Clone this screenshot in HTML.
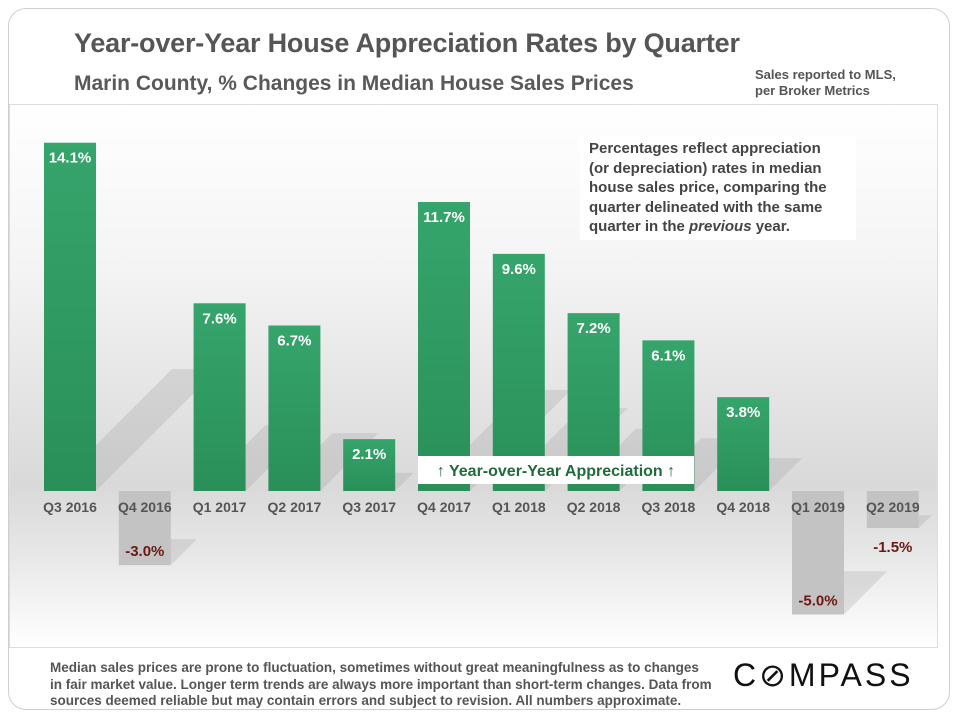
<!DOCTYPE html>
<html><head><meta charset="utf-8">
<style>
html,body{margin:0;padding:0;background:#fff;}
body{width:960px;height:720px;position:relative;overflow:hidden;font-family:"Liberation Sans Narrow","Liberation Sans",sans-serif;}
.frame{position:absolute;left:8px;top:8px;width:942px;height:702px;border:1px solid #cfcfcf;border-radius:18px;box-sizing:border-box;}
.panel{position:absolute;left:9px;top:104px;width:929px;height:544px;border:1px solid #ddd;box-sizing:border-box;
background:linear-gradient(to bottom,#ffffff 0%,#f4f4f4 30%,#d9d9d9 70%,#e6e6e6 82%,#ffffff 100%);}
.title{position:absolute;left:74px;top:28px;font-size:27px;font-weight:bold;color:#555;letter-spacing:-0.2px;}
.sub{position:absolute;left:74px;top:72px;font-size:21px;font-weight:bold;color:#595959;}
.src{position:absolute;left:755px;top:67px;font-size:13px;font-weight:bold;color:#555;line-height:16px;}
.note{position:absolute;left:580px;top:136px;width:276px;height:104px;background:#fff;font-size:15px;font-weight:bold;color:#444;line-height:19.5px;padding:3px 0 0 9px;box-sizing:border-box;white-space:nowrap;}
.foot{position:absolute;left:50px;top:660px;font-size:13.5px;font-weight:bold;color:#555;line-height:16.5px;}
.logo{position:absolute;left:733px;top:656px;font-size:32px;color:#111;letter-spacing:3px;font-family:"Liberation Sans",sans-serif;}
</style></head><body>
<div class="frame"></div>
<div class="panel"></div>
<div class="title">Year-over-Year House Appreciation Rates by Quarter</div>
<div class="sub">Marin County, % Changes in Median House Sales Prices</div>
<div class="src">Sales reported to MLS,<br>per Broker Metrics</div>
<svg id="chart" width="960" height="720" style="position:absolute;left:0;top:0"></svg>
<div class="note">Percentages reflect appreciation<br>(or depreciation) rates in median<br>house sales price, comparing the<br>quarter delineated with the same<br>quarter in the <i>previous</i> year.</div>
<div class="foot">Median sales prices are prone to fluctuation, sometimes without great meaningfulness as to changes<br>in fair market value. Longer term trends are always more important than short-term changes. Data from<br>sources deemed reliable but may contain errors and subject to revision. All numbers approximate.</div>
<div class="logo">C&#8856;MPASS</div>
<script>
const categories=["Q3 2016","Q4 2016","Q1 2017","Q2 2017","Q3 2017","Q4 2017","Q1 2018","Q2 2018","Q3 2018","Q4 2018","Q1 2019","Q2 2019"];
const values=[14.1,-3.0,7.6,6.7,2.1,11.7,9.6,7.2,6.1,3.8,-5.0,-1.5];
const NS="http://www.w3.org/2000/svg";
const svg=document.getElementById('chart');
const baseY=491, pxPer=24.7, x0=70, step=74.8, bw=52;
function xs(i){return x0+i*step;}
function ys(v){return baseY-v*pxPer;}
function el(t,a,txt){const e=document.createElementNS(NS,t);for(const k in a)e.setAttribute(k,a[k]);if(txt!==undefined)e.textContent=txt;svg.appendChild(e);return e;}
const defs=el('defs',{});
defs.innerHTML='<linearGradient id="gg" x1="0" y1="0" x2="0" y2="1"><stop offset="0" stop-color="#35a56c"/><stop offset="1" stop-color="#2a8f59"/></linearGradient>';
values.forEach((v,i)=>{
  const cx=xs(i);
  const h=Math.abs(v)*pxPer*0.35;
  const yb=v>=0?baseY:baseY+Math.abs(v)*pxPer;
  const s=el('polygon',{points:`${cx-bw/2+6},${yb} ${cx+bw/2},${yb} ${cx+bw/2+h},${yb-h} ${cx-bw/2+6+h},${yb-h}`,fill:'rgba(160,160,160,0.28)'});
  
  
});
values.forEach((v,i)=>{
  const cx=xs(i);
  const y=v>=0?ys(v):baseY;
  const h=Math.abs(v)*pxPer;
  const r=el('rect',{x:cx-bw/2,y:y,width:bw,height:h,fill:v>=0?'url(#gg)':'#c3c3c3'});
  
  
  const c=el('text',{x:cx,y:baseY+21,'text-anchor':'middle','font-size':'14','font-weight':'bold',fill:'#555','font-family':'Liberation Sans Narrow, Liberation Sans, sans-serif'},categories[i]);
  
  
  const lbl=v.toFixed(1)+'%';
  let t;
  if(v>0){
    t=el('text',{x:cx,y:y+20,'text-anchor':'middle','font-size':'15','font-weight':'bold',fill:'#fff','font-family':'Liberation Sans Narrow, Liberation Sans, sans-serif'},lbl);
  }else{
    const ty=h>60?baseY+h-9:baseY+h+24;
    t=el('text',{x:cx,y:ty,'text-anchor':'middle','font-size':'15','font-weight':'bold',fill:'#6b1a10','font-family':'Liberation Sans Narrow, Liberation Sans, sans-serif'},lbl);
  }
  
  
});
const b=el('rect',{x:418,y:456,width:276,height:28,fill:'#fff'});


const bt=el('text',{x:556,y:476,'text-anchor':'middle','font-size':'16','font-weight':'bold',fill:'#1f6b3c','font-family':'Liberation Sans Narrow, Liberation Sans, sans-serif'},'\u2191 Year-over-Year Appreciation \u2191');


</script>
</body></html>
